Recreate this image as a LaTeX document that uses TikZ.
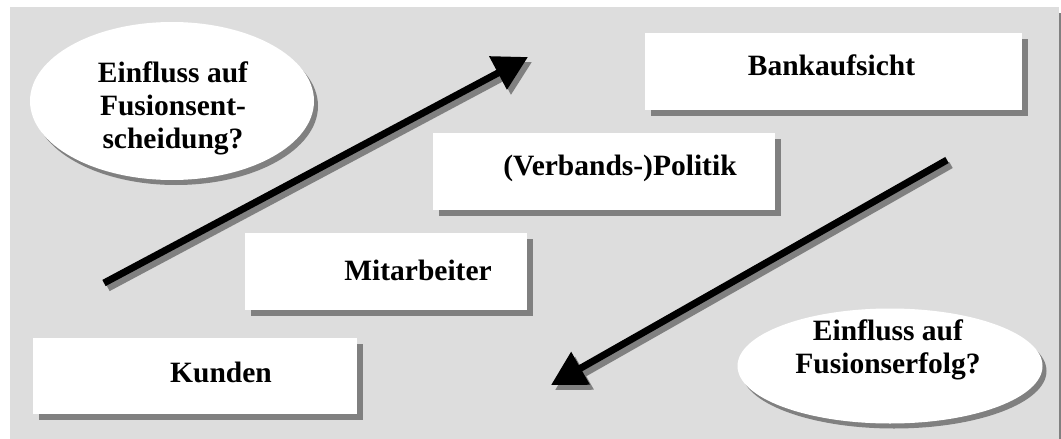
\documentclass[tikz,border=0pt]{standalone}
\usepackage{fontspec}
\setmainfont{Liberation Serif}
\usetikzlibrary{shadows,arrows.meta,shapes.geometric}
\definecolor{panel}{HTML}{DDDDDD}
\definecolor{castgray}{HTML}{808080}
\begin{document}
\begin{tikzpicture}[x=1pt,y=-1pt,
  card/.style={rectangle, fill=white, inner sep=0pt,
    drop shadow={shadow xshift=6pt, shadow yshift=-6pt, fill=castgray, opacity=1}},
  bubble/.style={ellipse, fill=white, inner sep=0pt,
    drop shadow={shadow xshift=4pt, shadow yshift=-5pt, fill=castgray, opacity=1}},
  caption/.style={font=\fontsize{29.5}{33}\selectfont\bfseries, align=center, inner sep=0pt},
  arrowbody/.style={line width=7pt, draw=black, fill=black, -{Triangle[length=34pt,width=36pt]}},
  arrowcast/.style={arrowbody, draw=castgray, fill=castgray}
]
\useasboundingbox (0,0) rectangle (1061,439);
% panel with its shadow
\fill[castgray] (16,13) rectangle (1061,439);
\fill[panel] (10,7) rectangle (1059,439);

% boxes
\node[card, minimum width=324pt, minimum height=76pt] (kunden) at (195,376) {};
\node[card, minimum width=282pt, minimum height=77pt] (mitarb) at (386,271.5) {};
\node[card, minimum width=342pt, minimum height=77pt] (politik) at (604,171.5) {};
\node[card, minimum width=377pt, minimum height=77pt] (aufsicht) at (833.5,71.5) {};

\node[caption, anchor=base] (tkunden) at (221,382) {Kunden};
\node[caption, anchor=base] (tmitarb) at (418,280) {Mitarbeiter};
\node[caption, anchor=base] (tpolitik) at (620,175) {(Verbands-)Politik};
\node[caption, anchor=base] (taufsicht) at (831.5,75) {Bankaufsicht};

% question bubbles
\node[bubble, minimum width=284pt, minimum height=158pt] (entsch) at (172,101) {};
\node[bubble, minimum width=305pt, minimum height=115pt] (erfolg) at (890,366) {};
\node[caption] (tentsch) at (173,108) {Einfluss auf\\Fusionsent-\\scheidung?};
\node[caption] (terfolg) at (888,350) {Einfluss auf\\Fusionserfolg?};

% arrows with offset shadows
\coordinate (upS) at (104,283);
\coordinate (upE) at (528,57);
\coordinate (dnS) at (947,160);
\coordinate (dnE) at (551,385);
\draw[arrowcast] ([shift={(4,5)}]upS) -- ([shift={(4,5)}]upE);
\draw[arrowbody] (upS) -- (upE);
\draw[arrowcast] ([shift={(4,5)}]dnS) -- ([shift={(4,5)}]dnE);
\draw[arrowbody] (dnS) -- (dnE);
\end{tikzpicture}
\end{document}
